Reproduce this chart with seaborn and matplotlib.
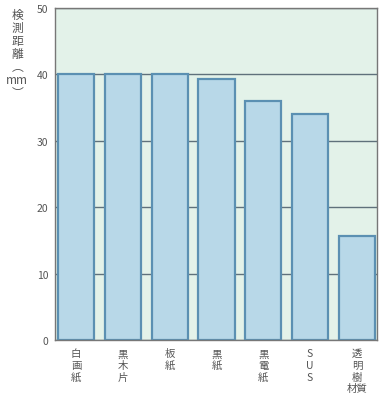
import matplotlib
matplotlib.use("Agg")
import matplotlib.pyplot as plt
import seaborn as sns
import pandas as pd

categories = ["白画紙", "黒木片", "板紙", "黒紙", "黒電紙", "SUS", "透明樹\n材質"]
values = [40, 40, 40, 39.3, 36.0, 34.0, 15.7]
yticks = [0, 10, 20, 30, 40, 50]

sns.set_style("white")
plt.rcParams['font.family'] = ['Noto Sans CJK JP', 'DejaVu Sans']

df = pd.DataFrame({"cat": categories, "val": values})

fig = plt.figure(figsize=(3.8, 4.06), dpi=100)
ax = fig.add_axes([0.145, 0.160, 0.847, 0.819])
ax.set_facecolor("#e3f2e9")

sns.barplot(data=df, x="cat", y="val", ax=ax, color="#b8d8e8",
            edgecolor="#5b90b2", linewidth=1.6, width=0.77, saturation=1)

ax.set_ylim(0, 50)
ax.set_xlim(-0.45, 6.43)
ax.set_yticks(yticks)
ax.set_yticklabels([str(t) for t in yticks], fontsize=7.5, color="#555555")
ax.yaxis.grid(True, color="#5f717b", linewidth=1.0)
ax.set_axisbelow(True)
ax.tick_params(axis="y", length=3, color="#666666", pad=2)
ax.tick_params(axis="x", length=0, pad=6)

def vert(s):
    lines = s.split("\n")
    out = "\n".join(lines[0])
    if len(lines) > 1:
        out += "\n" + lines[1]
    return out

ax.set_xticks(range(len(categories)))
ax.set_xticklabels([vert(c) for c in categories], fontsize=7.5, color="#555555",
                   va="top", linespacing=1.2)
ax.set_xlabel("")
ax.set_ylabel("")

for s in ax.spines.values():
    s.set_color("#777777")
    s.set_linewidth(1.0)

ylab = "\n".join(["検", "測", "距", "離", "︵", "mm", "︶"])
fig.text(0.045, 0.978, ylab, fontsize=8.5, color="#555555", ha="center", va="top",
         linespacing=1.0)

fig.savefig("out.png", dpi=100)
